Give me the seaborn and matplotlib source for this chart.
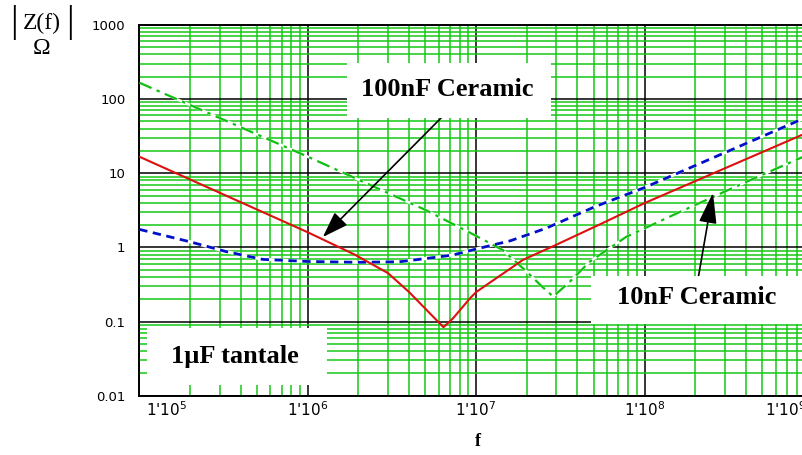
import numpy as np
import pandas as pd
import matplotlib
matplotlib.use("Agg")
import matplotlib.pyplot as plt
import matplotlib.transforms as mtransforms
from matplotlib.patches import Rectangle
from matplotlib.ticker import LogLocator, FixedLocator, FixedFormatter, NullFormatter
import seaborn as sns

# ---------------- data ----------------
freq_100n = [1e5, 1e6, 1.9e6, 3e6, 4e6, 5.2e6, 6.4e6, 7.3e6, 9.2e6, 1e7,
             1.9e7, 2.9e7, 5.5e7, 1e8, 1e9]
z_100n = [16.7, 1.6, 0.8, 0.45, 0.25, 0.136, 0.084, 0.111, 0.206, 0.25,
          0.68, 1.05, 2.07, 3.95, 38]

freq_1u = [1e5, 2e5, 3.3e5, 5.4e5, 1e6, 2e6, 3.5e6, 5.6e6, 7.3e6, 1e7,
           1.6e7, 2.6e7, 5.1e7, 1e8, 1e9]
z_1u = [1.75, 1.19, 0.875, 0.69, 0.646, 0.63, 0.64, 0.73, 0.79, 0.95,
        1.23, 1.81, 3.55, 6.4, 62]

freq_10n = [1e5, 1e6, 5e6, 1e7, 1.44e7, 2e7, 2.45e7, 2.87e7, 3.6e7, 4.74e7,
            7.8e7, 1.63e8, 4.05e8, 1e9]
z_10n = [166, 16.7, 3.2, 1.43, 0.92, 0.47, 0.30, 0.217, 0.345, 0.645,
         1.39, 3.02, 7.7, 19]

x_ticks = [1e5, 1e6, 1e7, 1e8, 1e9]
x_ticklabels = ["1'10$^{5}$", "1'10$^{6}$", "1'10$^{7}$", "1'10$^{8}$", "1'10$^{9}$"]
y_ticks = [0.01, 0.1, 1, 10, 100, 1000]
y_ticklabels = ["0.01", "0.1", "1", "10", "100", "1000"]

# ---------------- figure ----------------
sns.set_style("white")
plt.rcParams["font.family"] = ["DejaVu Sans"]
plt.rcParams["text.color"] = "black"
plt.rcParams["xtick.color"] = "black"
plt.rcParams["ytick.color"] = "black"
plt.rcParams["xtick.labelcolor"] = "black"
plt.rcParams["ytick.labelcolor"] = "black"

W, H = 802, 455
fig = plt.figure(figsize=(W / 100, H / 100), dpi=100)
# axes: 1e5 at px 139.3, 1e9 at px 812.9 (beyond right edge, as in reference)
ax = fig.add_axes([139.3 / W, (H - 395.8) / H, 673.6 / W, 371.0 / H])
ax.set_xscale("log")
ax.set_yscale("log")
ax.set_xlim(1e5, 1e9)
ax.set_ylim(0.01, 1000)

GREEN = "#16c716"
ax.xaxis.set_minor_locator(LogLocator(base=10, subs=np.arange(2, 10), numticks=100))
ax.yaxis.set_minor_locator(LogLocator(base=10, subs=np.arange(2, 10), numticks=100))
ax.xaxis.set_minor_formatter(NullFormatter())
ax.yaxis.set_minor_formatter(NullFormatter())
ax.grid(True, which="minor", color=GREEN, linewidth=1.1, zorder=0)
ax.grid(True, which="major", color="black", linewidth=1.1, zorder=0)
ax.set_axisbelow(True)

ax.xaxis.set_major_locator(FixedLocator(x_ticks))
ax.xaxis.set_major_formatter(FixedFormatter(x_ticklabels))
ax.yaxis.set_major_locator(FixedLocator(y_ticks))
ax.yaxis.set_major_formatter(FixedFormatter(y_ticklabels))
ax.tick_params(axis="both", which="both", length=0, labelcolor="black")
ax.tick_params(axis="y", pad=10, labelsize=9.5)
ax.tick_params(axis="x", pad=3, labelsize=11)

# edge x labels kept inside the axis like the reference
lbls = ax.get_xticklabels()
lbls[0].set_transform(lbls[0].get_transform() +
                      mtransforms.ScaledTranslation(27 / 100, 0, fig.dpi_scale_trans))
lbls[-1].set_transform(lbls[-1].get_transform() +
                       mtransforms.ScaledTranslation(-27 / 100, 0, fig.dpi_scale_trans))

for s in ["left", "bottom", "top", "right"]:
    ax.spines[s].set_color("black")
    ax.spines[s].set_linewidth(1.4)

# ---------------- curves ----------------
df_10n = pd.DataFrame({"f": freq_10n, "Z": z_10n})
df_1u = pd.DataFrame({"f": freq_1u, "Z": z_1u})
df_100n = pd.DataFrame({"f": freq_100n, "Z": z_100n})

# white underlay for dashed curves (gaps are white in reference)
sns.lineplot(data=df_10n, x="f", y="Z", ax=ax, color="white", linewidth=1.8,
             estimator=None, sort=False, zorder=2)
sns.lineplot(data=df_10n, x="f", y="Z", ax=ax, color="#10c010", linewidth=1.6,
             estimator=None, sort=False, zorder=3)
ax.lines[-1].set_dashes([6, 2.5, 1.5, 2.5])

sns.lineplot(data=df_1u, x="f", y="Z", ax=ax, color="white", linewidth=2.2,
             estimator=None, sort=False, zorder=2)
sns.lineplot(data=df_1u, x="f", y="Z", ax=ax, color="#0010c8", linewidth=2.0,
             estimator=None, sort=False, zorder=3)
ax.lines[-1].set_dashes([3.0, 2.0])

sns.lineplot(data=df_100n, x="f", y="Z", ax=ax, color="#dd1010", linewidth=1.5,
             estimator=None, sort=False, zorder=4)

ax.set_xlabel("")
ax.set_ylabel("")

# ---------------- annotations ----------------
serif = ["Liberation Serif", "DejaVu Serif"]

ax.annotate("", xy=(1.23e6, 1.38), xycoords="data",
            xytext=(447, H - 112), textcoords="figure pixels",
            arrowprops=dict(arrowstyle="-|>,head_length=1.6,head_width=0.55",
                            color="black", lw=1.2, shrinkA=0, shrinkB=0),
            zorder=5)
ax.annotate("", xy=(2.55e8, 5.46), xycoords="data",
            xytext=(697, H - 285), textcoords="figure pixels",
            arrowprops=dict(arrowstyle="-|>,head_length=1.9,head_width=0.55",
                            color="black", lw=1.2, shrinkA=0, shrinkB=0),
            zorder=5)


def white_box(x0, y0, x1, y1):
    fig.patches.append(Rectangle((x0 / W, (H - y1) / H), (x1 - x0) / W, (y1 - y0) / H,
                                 transform=fig.transFigure, facecolor="white",
                                 edgecolor="none", zorder=9))


white_box(347, 63, 551, 118)
white_box(591, 276, 806, 324)
white_box(147, 328, 327, 385)

fig.text(447 / W, (H - 89) / H, "100nF Ceramic", family=serif, weight="bold",
         fontsize=19, ha="center", va="center", zorder=10)
fig.text(697 / W, (H - 298) / H, "10nF Ceramic", family=serif, weight="bold",
         fontsize=19, ha="center", va="center", zorder=10)
fig.text(235 / W, (H - 356) / H, "1µF tantale", family=serif, weight="bold",
         fontsize=19, ha="center", va="center", zorder=10)

# axis labels
fig.text(478 / W, (H - 441) / H, "f", family=serif, weight="bold",
         fontsize=13, ha="center", va="center")
fig.text(42 / W, (H - 23) / H, "Z(f)", family=serif, fontsize=17,
         ha="center", va="center")
fig.text(14 / W, (H - 23) / H, "|", family=serif, fontsize=27,
         ha="center", va="center")
fig.text(70 / W, (H - 23) / H, "|", family=serif, fontsize=27,
         ha="center", va="center")
fig.text(42 / W, (H - 49) / H, "Ω", family=serif, fontsize=17,
         ha="center", va="center")

fig.savefig("out.png", dpi=100)
